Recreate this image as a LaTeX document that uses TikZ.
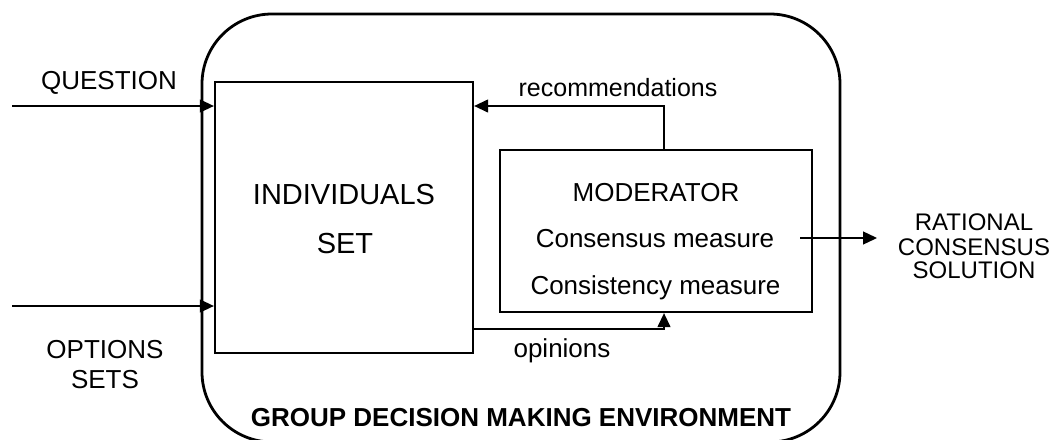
\documentclass[tikz,border=0pt]{standalone}
\usepackage{fontspec}
\setmainfont{Liberation Sans}
\usetikzlibrary{arrows.meta}
\begin{document}
\begin{tikzpicture}[x=1pt,y=-1pt,
  box/.style={draw, line width=2.3pt, inner sep=0pt},
  env/.style={draw, line width=2.8pt, rounded corners=70pt, inner sep=0pt},
  arr/.style={line width=1.3pt, -{Triangle[length=14pt,width=13pt]}},
  lbl/.style={inner sep=0pt, anchor=base},
  fA/.style={font=\fontsize{26}{30}\selectfont},
  fB/.style={font=\fontsize{29}{33}\selectfont},
  fC/.style={font=\fontsize{24}{24}\selectfont}]
\useasboundingbox (0,0) rectangle (1057,439);
% environment
\node[env, minimum width=638pt, minimum height=428pt] (envbox) at (521,228) {};
% boxes
\node[box, minimum width=258pt, minimum height=271pt] (ind) at (344,217.5) {};
\node[box, minimum width=312pt, minimum height=162pt] (mod) at (656,231) {};
% texts
\node[lbl, fB] (indt) at (344,204) {INDIVIDUALS};
\node[lbl, fB] (sett) at (345,253) {SET};
\node[lbl, fA] (modt) at (656,201.7) {MODERATOR};
\node[lbl, fA] (cons) at (655,247.7) {Consensus measure};
\node[lbl, fA] (cnst) at (655.5,294.5) {Consistency measure};
\node[lbl, fA] (qt) at (109,89) {QUESTION};
\node[lbl, fA] (opt) at (105,358) {OPTIONS};
\node[lbl, fA] (sets) at (105,388) {SETS};
\node[lbl, font=\fontsize{25}{30}\selectfont] (rec) at (618,96) {recommendations};
\node[lbl, fA] (opn) at (562,357) {opinions};
\node[lbl, fC] (rat) at (974,230.6) {RATIONAL};
\node[lbl, fC] (con2) at (974,255.6) {CONSENSUS};
\node[lbl, fC] (sol) at (974,278.6) {SOLUTION};
\node[lbl, font=\bfseries\fontsize{26}{30}\selectfont] (gdm) at (521,426) {GROUP DECISION MAKING ENVIRONMENT};
% connector points
\coordinate (q0) at (12,106);
\coordinate (o0) at (12,306);
\coordinate (r1) at (664,106);
\coordinate (p1) at (664,329);
\coordinate (c0) at (800,238);
\coordinate (c1) at (877,238);
% connectors
\draw[arr] (q0) -- (ind.west |- q0);
\draw[arr] (o0) -- (ind.west |- o0);
\draw[arr] (mod.north -| r1) -- (r1) -- (ind.east |- r1);
\draw[arr] (ind.east |- p1) -- (p1) -- (mod.south -| p1);
\draw[arr] (c0) -- (c1);
\end{tikzpicture}
\end{document}
